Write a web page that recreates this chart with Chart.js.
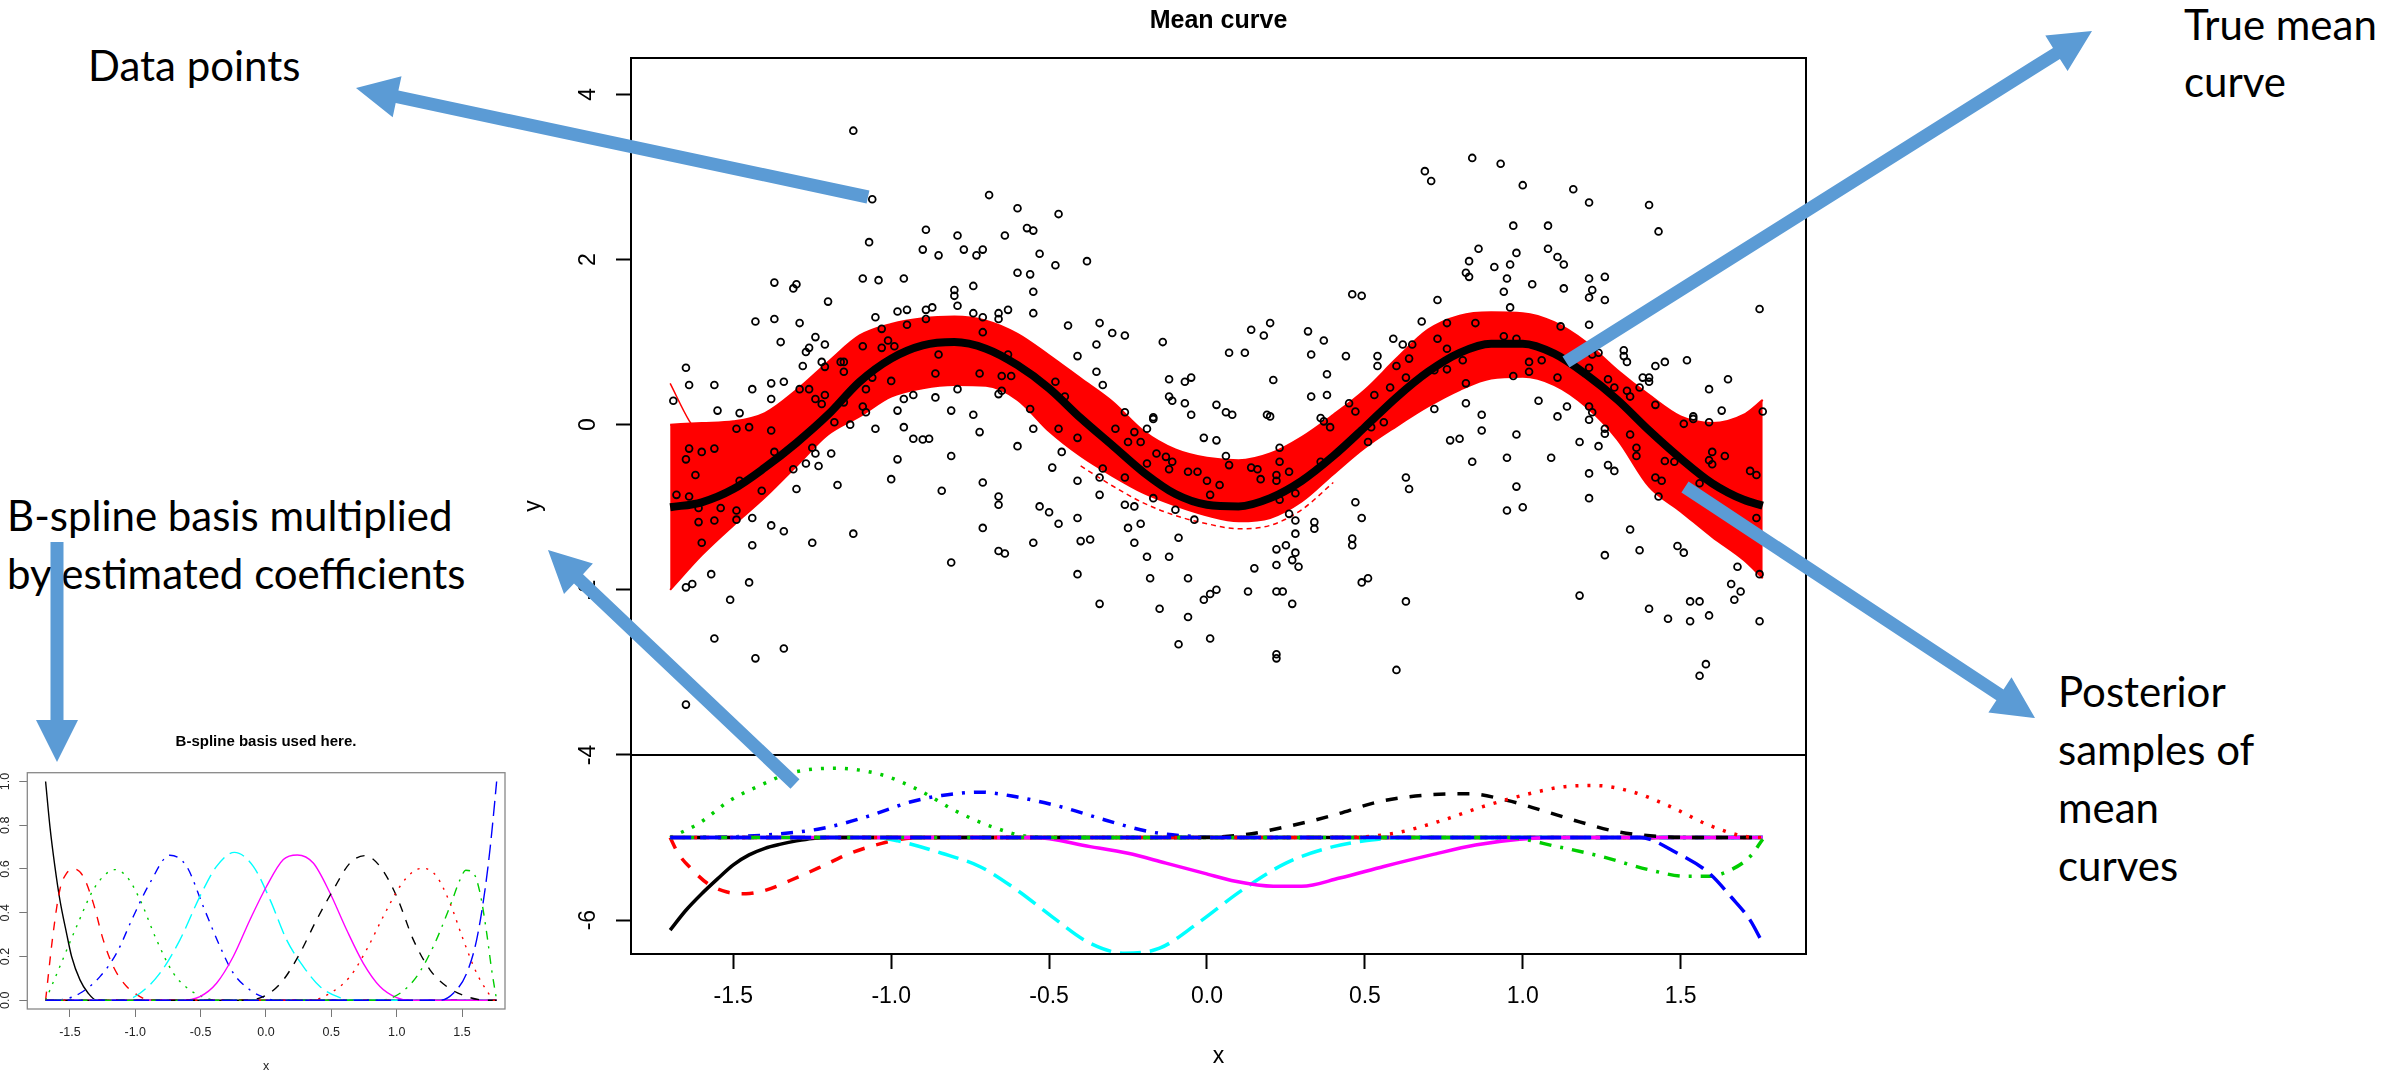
<!DOCTYPE html>
<html lang="en">
<head>
<meta charset="UTF-8">
<title>Mean curve</title>
<script src="https://cdn.jsdelivr.net/npm/chart.js"></script>
<style>
  html, body { margin: 0; padding: 0; background: #fff; }
  body { position: relative; width: 2394px; height: 1074px; overflow: hidden; }
  .chart-box { position: absolute; }
  #mainBox { left: 500px; top: 0; width: 1437px; height: 1074px; }
  #insetBox { left: -40px; top: 720px; width: 612px; height: 354px; }
  .note { position: absolute; margin: 0; font-family: Lato, "Open Sans", sans-serif; font-size: 42px; line-height: 58px; color: #000; white-space: nowrap; }
  #arrows { position: absolute; left: 0; top: 0; pointer-events: none; }
</style>
</head>
<body>
<div class="chart-box" id="mainBox"><canvas id="mainChart"></canvas></div>
<div class="chart-box" id="insetBox"><canvas id="insetChart"></canvas></div>

<div class="note" style="left:88px; top:36px;">Data points</div>
<div class="note" style="left:2184px; top:-4px; line-height:57px;">True mean<br>curve</div>
<div class="note" style="left:7px; top:486px;">B-spline basis multiplied<br>by estimated coefficients</div>
<div class="note" style="left:2058px; top:662px;">Posterior<br>samples of<br>mean<br>curves</div>

<svg id="arrows" width="2394" height="1074"></svg>

<script>
// ---- main panel: axes ----
const xMin = -1.824, xMax = 1.897;
const yMin = -6.41, yMax = 4.44;
const xTicks = [-1.5, -1.0, -0.5, 0.0, 0.5, 1.0, 1.5];
const yTicks = [4, 2, 0, -2, -4, -6];
const dividerY = -4;

// ---- true mean curve and the band of posterior samples ----
const curveX = [-1.7, -1.6, -1.5, -1.4, -1.3, -1.2, -1.1, -1.0, -0.9, -0.8, -0.7, -0.6, -0.5, -0.4, -0.3, -0.2, -0.1, 0.0,
                0.1, 0.2, 0.3, 0.4, 0.5, 0.6, 0.7, 0.8, 0.9, 1.0, 1.1, 1.2, 1.3, 1.4, 1.5, 1.6, 1.7, 1.76];
const trueMean = [-1.00, -0.94, -0.78, -0.52, -0.22, 0.12, 0.52, 0.80, 0.96, 1.00, 0.92, 0.72, 0.44, 0.08, -0.25, -0.58, -0.84, -0.97,
                  -0.99, -0.89, -0.68, -0.38, -0.03, 0.33, 0.64, 0.87, 0.98, 0.98, 0.86, 0.61, 0.30, -0.07, -0.41, -0.71, -0.91, -0.98];
const bandUpper = [0.00, 0.02, 0.04, 0.14, 0.42, 0.76, 1.08, 1.22, 1.29, 1.31, 1.26, 1.10, 0.84, 0.56, 0.28, -0.08, -0.30, -0.40,
                   -0.43, -0.35, -0.15, 0.12, 0.42, 0.80, 1.15, 1.32, 1.36, 1.35, 1.24, 1.00, 0.66, 0.36, 0.10, 0.02, 0.12, 0.30];
const bandLower = [-2.00, -1.58, -1.22, -0.88, -0.50, -0.12, 0.10, 0.34, 0.44, 0.48, 0.47, 0.30, -0.08, -0.38, -0.62, -0.83, -0.98, -1.10,
                   -1.17, -1.13, -0.93, -0.60, -0.28, -0.02, 0.22, 0.42, 0.56, 0.58, 0.48, 0.22, -0.18, -0.75, -1.05, -1.36, -1.64, -1.86];
// two stray posterior samples outside the dense band
const strayTroughX = [-0.4, -0.3, -0.2, -0.1, 0.0, 0.1, 0.2, 0.3, 0.4];
const strayTroughY = [-0.50, -0.74, -0.95, -1.10, -1.20, -1.26, -1.22, -1.03, -0.70];
const strayLeftX = [-1.70, -1.64, -1.58];
const strayLeftY = [0.50, 0.05, -0.25];

// ---- observed data points [x, y] ----
const observations = [
  [-1.12,3.56],[-1.06,2.73],[-1.07,2.21],[-0.69,2.78],[-0.60,2.62],[-0.57,2.38],[-0.55,2.35],[-0.89,2.36],[-0.79,2.29],[-0.64,2.29],
  [-0.90,2.12],[-0.85,2.05],[-0.77,2.12],[-0.71,2.12],[-0.73,2.05],[-0.53,2.07],[-1.37,1.72],[-1.30,1.70],[-1.31,1.65],[-1.09,1.77],
  [-1.04,1.75],[-0.96,1.77],[-0.60,1.84],[-0.56,1.82],[-0.55,1.61],[-0.80,1.63],[-0.80,1.56],[-0.74,1.68],[-1.20,1.49],[-0.79,1.44],
  [-1.43,1.25],[-1.37,1.28],[-1.29,1.23],[-1.05,1.30],[-0.98,1.37],[-0.95,1.39],[-0.89,1.39],[-0.87,1.42],[-0.74,1.35],[-0.71,1.30],
  [-0.66,1.35],[-0.63,1.39],[-0.55,1.35],[-0.66,1.28],[-0.89,1.28],[-0.95,1.21],[-1.03,1.16],[-0.71,1.12],[-1.35,1.00],[-1.24,1.06],
  [-1.21,0.97],[-1.26,0.93],[-1.27,0.88],[-1.01,1.02],[-1.09,0.95],[-1.03,0.93],[-0.99,0.95],[-1.15,0.76],[-1.16,0.76],[-1.22,0.76],
  [-1.28,0.71],[-1.21,0.70],[-1.15,0.64],[-1.65,0.69],[-1.64,0.48],[-1.56,0.48],[-1.44,0.43],[-1.38,0.50],[-1.34,0.52],[-1.06,0.57],
  [-1.00,0.53],[-0.85,0.85],[-0.86,0.62],[-0.72,0.62],[-0.65,0.59],[-0.62,0.59],[-0.63,0.85],[-1.29,0.43],[-1.26,0.43],[-1.08,0.43],
  [-1.24,0.31],[-1.21,0.36],[-1.22,0.25],[-1.15,0.27],[-0.79,0.43],[-0.93,0.36],[-0.96,0.31],[-0.86,0.33],[-0.65,0.41],[-0.66,0.37],
  [-1.69,0.29],[-1.55,0.17],[-1.48,0.14],[-1.38,0.31],[-1.09,0.22],[-1.08,0.15],[-0.98,0.17],[-0.81,0.17],[-0.74,0.12],[-0.56,0.19],
  [-0.47,2.55],[-0.48,1.93],[-0.38,1.98],[-0.44,1.20],[-0.34,1.23],[-0.30,1.11],[-0.26,1.08],[-0.35,0.97],[-0.41,0.83],[-0.14,1.00],
  [-0.35,0.64],[-0.33,0.48],[-0.48,0.52],[-0.45,0.34],[-0.12,0.55],[-0.07,0.52],[-0.05,0.57],[-0.12,0.34],[-0.11,0.29],[-0.07,0.26],
  [-0.05,0.12],[0.03,0.24],[0.06,0.15],[0.08,0.12],[0.19,0.12],[0.20,0.10],[-0.26,0.15],[-0.17,0.09],[0.07,0.87],[0.12,0.87],
  [0.14,1.15],[0.20,1.23],[0.18,1.08],[0.21,0.54],[0.32,1.13],[0.37,1.02],[0.33,0.85],[0.38,0.61],[0.44,0.83],[0.33,0.34],
  [0.38,0.36],[0.46,1.58],[0.49,1.56],[0.59,1.04],[0.62,0.97],[0.65,0.97],[0.54,0.83],[0.54,0.71],[0.60,0.71],[0.64,0.80],
  [0.63,0.57],[0.58,0.45],[0.53,0.36],[0.45,0.26],[0.47,0.16],[0.36,0.08],
  [0.84,3.23],[0.93,3.16],[0.69,3.07],[0.71,2.95],[1.00,2.90],[1.16,2.85],[1.21,2.69],[1.40,2.66],[1.43,2.34],[0.97,2.41],
  [1.08,2.41],[0.86,2.13],[0.98,2.08],[1.08,2.13],[1.11,2.03],[1.13,1.94],[0.83,1.98],[0.91,1.91],[0.96,1.94],[0.82,1.84],
  [0.83,1.79],[0.95,1.77],[1.03,1.70],[1.13,1.65],[1.21,1.77],[1.26,1.79],[1.22,1.63],[1.21,1.54],[1.26,1.51],[0.94,1.61],
  [0.73,1.51],[0.96,1.42],[1.75,1.40],[0.68,1.25],[0.76,1.23],[0.85,1.23],[1.12,1.19],[1.21,1.21],[0.73,1.04],[0.76,0.92],
  [0.94,1.07],[0.98,1.04],[0.81,0.78],[0.76,0.67],[0.72,0.66],[1.02,0.76],[1.06,0.78],[1.02,0.64],[0.97,0.59],[1.11,0.57],
  [1.22,0.85],[1.24,0.87],[1.21,0.69],[1.27,0.55],[1.29,0.45],[1.32,0.90],[1.32,0.83],[1.33,0.76],[1.42,0.71],[1.45,0.76],
  [1.52,0.78],[1.38,0.57],[1.40,0.57],[1.40,0.52],[1.37,0.45],[1.65,0.55],[1.59,0.43],[1.33,0.41],[1.34,0.34],[1.42,0.24],
  [0.82,0.50],[0.82,0.26],[0.72,0.19],[0.87,0.12],[1.05,0.29],[1.14,0.22],[1.21,0.22],[1.11,0.10],[1.22,0.15],[1.54,0.10],
  [1.63,0.17],[1.76,0.16],
  [-1.49,-0.05],[-1.45,-0.03],[-1.38,-0.07],[-1.64,-0.29],[-1.60,-0.33],[-1.56,-0.29],[-1.65,-0.42],[-1.62,-0.61],[-1.37,-0.33],[-1.48,-0.68],
  [-1.68,-0.85],[-1.64,-0.87],[-1.61,-1.01],[-1.54,-1.01],[-1.49,-1.04],[-1.61,-1.18],[-1.56,-1.16],[-1.49,-1.15],[-1.44,-1.13],[-1.41,-0.80],
  [-1.60,-1.43],[-1.44,-1.46],[-1.38,-1.22],[-1.34,-1.29],[-1.31,-0.54],[-1.30,-0.78],[-1.27,-0.47],[-1.25,-0.28],[-1.24,-0.35],[-1.19,-0.35],
  [-1.23,-0.50],[-1.17,-0.73],[-1.25,-1.43],[-1.12,-1.32],[-1.18,0.03],[-1.13,0.00],[-1.05,-0.05],[-0.96,-0.03],[-0.93,-0.17],[-0.90,-0.18],
  [-0.88,-0.17],[-0.98,-0.42],[-1.00,-0.66],[-0.81,-0.38],[-0.84,-0.80],[-0.72,-0.09],[-0.60,-0.26],[-0.55,-0.05],[-0.71,-0.70],[-0.66,-0.87],
  [-0.66,-0.97],[-0.53,-0.99],[-0.71,-1.25],[-0.66,-1.53],[-0.64,-1.56],[-0.55,-1.43],[-0.81,-1.67],[-1.57,-1.81],[-1.65,-1.97],[-1.63,-1.93],
  [-1.45,-1.91],[-1.51,-2.12],[-1.56,-2.59],[-1.43,-2.83],[-1.34,-2.71],[-1.65,-3.39],
  [-0.47,-0.05],[-0.41,-0.16],[-0.29,-0.05],[-0.23,-0.09],[-0.19,-0.05],[-0.25,-0.21],[-0.21,-0.21],[-0.17,0.07],[-0.01,-0.16],[0.03,-0.19],
  [-0.46,-0.33],[-0.49,-0.52],[-0.33,-0.53],[-0.34,-0.64],[-0.41,-0.68],[-0.34,-0.85],[-0.26,-0.64],[-0.19,-0.47],[-0.16,-0.35],[-0.13,-0.39],
  [-0.11,-0.45],[-0.12,-0.54],[-0.06,-0.57],[-0.03,-0.57],[0.00,-0.68],[0.04,-0.73],[0.01,-0.85],[0.06,-0.38],[0.07,-0.49],[0.14,-0.52],
  [0.16,-0.54],[0.17,-0.66],[0.23,-0.45],[0.23,-0.28],[0.26,-0.57],[0.22,-0.68],[0.22,-0.61],[0.28,-0.83],[0.23,-0.91],[0.36,-0.45],
  [0.39,-0.03],[0.37,0.04],[0.56,0.03],[0.52,-0.03],[0.51,-0.21],
  [-0.50,-1.06],[-0.47,-1.20],[-0.41,-1.13],[-0.40,-1.41],[-0.37,-1.39],[-0.41,-1.81],[-0.34,-2.17],[-0.26,-0.97],[-0.23,-0.99],[-0.17,-0.89],
  [-0.25,-1.25],[-0.21,-1.20],[-0.23,-1.43],[-0.10,-1.03],[-0.04,-1.15],[-0.09,-1.37],[-0.19,-1.60],[-0.12,-1.60],[-0.18,-1.86],[-0.06,-1.86],
  [-0.15,-2.23],[-0.06,-2.33],[-0.09,-2.66],[0.01,-2.59],[-0.01,-2.12],[0.01,-2.05],[0.03,-2.00],[0.13,-2.02],[0.22,-2.02],[0.24,-2.02],
  [0.27,-2.17],[0.15,-1.74],[0.22,-1.70],[0.22,-1.51],[0.25,-1.46],[0.28,-1.55],[0.27,-1.64],[0.29,-1.72],[0.28,-1.32],[0.28,-1.16],
  [0.26,-1.08],[0.34,-1.18],[0.34,-1.26],[0.46,-1.38],[0.46,-1.46],[0.47,-0.94],[0.49,-1.13],[0.49,-1.91],[0.51,-1.86],[0.63,-0.64],
  [0.64,-0.78],[0.63,-2.14],[0.60,-2.97],[0.22,-2.78],[0.22,-2.83],
  [0.77,-0.19],[0.80,-0.17],[0.87,-0.07],[0.98,-0.12],[0.84,-0.45],[0.95,-0.40],[1.09,-0.40],[1.18,-0.21],[1.24,-0.26],[1.21,0.06],
  [1.26,-0.05],[1.26,-0.11],[1.34,-0.12],[1.36,-0.28],[1.36,-0.38],[1.27,-0.49],[1.29,-0.56],[1.21,-0.59],[0.98,-0.75],[0.95,-1.04],
  [1.00,-1.00],[1.21,-0.89],[1.45,-0.44],[1.42,-0.64],[1.44,-0.68],[1.43,-0.87],[1.56,-0.71],[1.48,-0.45],[1.51,0.01],[1.54,0.07],
  [1.59,0.03],[1.60,-0.33],[1.59,-0.43],[1.60,-0.48],[1.64,-0.38],[1.72,-0.56],[1.74,-0.61],[1.74,-1.13],[1.34,-1.27],[1.37,-1.52],
  [1.26,-1.58],[1.49,-1.47],[1.51,-1.55],[1.68,-1.72],[1.75,-1.81],[1.66,-1.93],[1.69,-2.02],[1.67,-2.12],[1.18,-2.07],[1.53,-2.14],
  [1.56,-2.14],[1.40,-2.23],[1.46,-2.35],[1.53,-2.38],[1.59,-2.31],[1.75,-2.38],[1.58,-2.90],[1.56,-3.04]
];

// ---- lower panel: basis functions times estimated coefficients, drawn around -5 ----
const coef1 = [[-1.70,-6.12],[-1.65,-5.88],[-1.60,-5.68],[-1.55,-5.50],[-1.50,-5.33],[-1.45,-5.21],[-1.40,-5.13],[-1.35,-5.08],[-1.30,-5.04],[-1.25,-5.01],[-1.20,-5.00],[1.76,-5.00]];
const coef2 = [[-1.70,-5.00],[-1.675,-5.19],[-1.63,-5.39],[-1.58,-5.56],[-1.52,-5.66],[-1.46,-5.68],[-1.40,-5.64],[-1.32,-5.52],[-1.22,-5.35],[-1.13,-5.19],[-1.03,-5.07],[-0.97,-5.02],[-0.90,-5.00],[1.76,-5.00]];
const coef3 = [[-1.70,-5.00],[-1.61,-4.83],[-1.51,-4.55],[-1.41,-4.36],[-1.32,-4.22],[-1.18,-4.16],[-1.03,-4.24],[-0.91,-4.43],[-0.80,-4.67],[-0.68,-4.87],[-0.56,-4.99],[-0.46,-5.00],[1.76,-5.00]];
const coef4 = [[-1.70,-5.00],[-1.50,-4.99],[-1.37,-4.96],[-1.22,-4.89],[-1.08,-4.75],[-0.94,-4.57],[-0.84,-4.49],[-0.72,-4.45],[-0.60,-4.51],[-0.46,-4.63],[-0.32,-4.79],[-0.18,-4.93],[-0.03,-4.99],[0.06,-5.00],[1.76,-5.00]];
const coef5 = [[-1.70,-5.00],[-1.05,-5.00],[-0.98,-5.04],[-0.84,-5.19],[-0.72,-5.35],[-0.60,-5.64],[-0.49,-5.96],[-0.37,-6.28],[-0.26,-6.40],[-0.15,-6.34],[-0.03,-6.04],[0.11,-5.64],[0.25,-5.31],[0.40,-5.11],[0.52,-5.03],[0.62,-5.00],[1.76,-5.00]];
const coef6 = [[-1.70,-5.00],[-0.55,-5.00],[-0.37,-5.11],[-0.25,-5.19],[-0.13,-5.31],[-0.01,-5.43],[0.09,-5.53],[0.21,-5.59],[0.30,-5.59],[0.42,-5.49],[0.56,-5.35],[0.71,-5.21],[0.85,-5.09],[0.99,-5.02],[1.10,-5.00],[1.76,-5.00]];
const coef7 = [[-1.70,-5.00],[-0.10,-5.00],[0.11,-4.97],[0.25,-4.87],[0.40,-4.73],[0.54,-4.57],[0.68,-4.49],[0.83,-4.47],[0.95,-4.55],[1.06,-4.67],[1.18,-4.81],[1.30,-4.93],[1.45,-4.99],[1.60,-5.00],[1.76,-5.00]];
const coef8 = [[-1.70,-5.00],[0.42,-5.00],[0.59,-4.95],[0.73,-4.81],[0.87,-4.63],[1.02,-4.47],[1.14,-4.38],[1.23,-4.37],[1.35,-4.45],[1.47,-4.63],[1.59,-4.85],[1.71,-4.99],[1.76,-5.00]];
const coef9 = [[-1.70,-5.00],[0.95,-5.00],[1.11,-5.11],[1.25,-5.23],[1.40,-5.39],[1.52,-5.47],[1.59,-5.47],[1.66,-5.39],[1.72,-5.23],[1.76,-5.02]];
const coef10 = [[-1.70,-5.00],[1.37,-5.00],[1.49,-5.19],[1.59,-5.43],[1.66,-5.72],[1.72,-6.00],[1.76,-6.28]];

// ---- inset: the B-spline basis ----
const insetXMin = -1.826, insetXMax = 1.829;
const insetYMin = -0.04, insetYMax = 1.04;
const insetXTicks = [-1.5, -1.0, -0.5, 0.0, 0.5, 1.0, 1.5];
const insetYTicks = [0.0, 0.2, 0.4, 0.6, 0.8, 1.0];
const basis1 = [[-1.686,1.0],[-1.653,0.795],[-1.615,0.612],[-1.577,0.46],[-1.526,0.307],[-1.487,0.20],[-1.423,0.093],[-1.36,0.032],[-1.296,0.0],[1.765,0]];
const basis2 = [[-1.686,0],[-1.628,0.307],[-1.577,0.505],[-1.526,0.58],[-1.469,0.60],[-1.398,0.566],[-1.321,0.444],[-1.245,0.276],[-1.168,0.154],[-1.066,0.063],[-0.964,0.017],[-0.888,0],[1.765,0]];
const basis3 = [[-1.686,0],[-1.577,0.154],[-1.449,0.337],[-1.321,0.505],[-1.219,0.58],[-1.156,0.597],[-1.066,0.566],[-0.964,0.46],[-0.837,0.276],[-0.709,0.124],[-0.582,0.047],[-0.454,0.009],[-0.378,0],[1.765,0]];
const basis4 = [[-1.686,0],[-1.55,0.004],[-1.423,0.032],[-1.27,0.108],[-1.143,0.215],[-1.015,0.383],[-0.888,0.536],[-0.735,0.663],[-0.607,0.612],[-0.48,0.429],[-0.352,0.246],[-0.25,0.124],[-0.122,0.047],[0.005,0.009],[0.082,0],[1.765,0]];
const basis5 = [[-1.686,0],[-1.092,0],[-0.964,0.032],[-0.811,0.124],[-0.658,0.276],[-0.505,0.475],[-0.378,0.612],[-0.242,0.676],[-0.097,0.612],[0.031,0.46],[0.158,0.276],[0.286,0.154],[0.413,0.063],[0.566,0.012],[0.668,0],[1.765,0]];
const basis6 = [[-1.686,0],[-0.658,0],[-0.505,0.017],[-0.378,0.078],[-0.25,0.2],[-0.122,0.368],[0.005,0.521],[0.133,0.643],[0.24,0.664],[0.362,0.627],[0.49,0.49],[0.617,0.322],[0.745,0.169],[0.872,0.063],[1.0,0.012],[1.102,0],[1.765,0]];
const basis7 = [[-1.686,0],[-0.148,0],[0.005,0.024],[0.133,0.093],[0.26,0.215],[0.388,0.368],[0.515,0.505],[0.643,0.627],[0.758,0.661],[0.872,0.612],[1.0,0.475],[1.128,0.276],[1.255,0.139],[1.383,0.063],[1.536,0.017],[1.689,0],[1.765,0]];
const basis8 = [[-1.686,0],[0.337,0],[0.49,0.032],[0.643,0.108],[0.77,0.231],[0.898,0.383],[1.026,0.521],[1.128,0.589],[1.204,0.603],[1.306,0.566],[1.408,0.444],[1.51,0.276],[1.612,0.124],[1.702,0.032],[1.74,0],[1.765,0]];
const basis9 = [[-1.686,0],[0.872,0],[1.026,0.032],[1.153,0.108],[1.281,0.246],[1.408,0.429],[1.485,0.551],[1.528,0.594],[1.587,0.582],[1.638,0.49],[1.689,0.307],[1.727,0.139],[1.765,0]];
const basis10 = [[-1.686,0],[1.332,0],[1.434,0.032],[1.536,0.124],[1.612,0.276],[1.676,0.505],[1.714,0.689],[1.74,0.841],[1.765,1.0]];

// R style colours / line types, cycled like matplot
const rColors = ['#000000', '#FF0000', '#00CD00', '#0000FF', '#00FFFF', '#FF00FF', '#000000', '#FF0000', '#00CD00', '#0000FF'];
const rLty = ['solid', 'dashed', 'dotted', 'dotdash', 'longdash', 'solid', 'dashed', 'dotted', 'dotdash', 'longdash'];

function dashFor(lty, unit) {
  if (lty === 'dashed') return [4 * unit, 4 * unit];
  if (lty === 'dotted') return [1 * unit, 3 * unit];
  if (lty === 'dotdash') return [1 * unit, 3 * unit, 4 * unit, 3 * unit];
  if (lty === 'longdash') return [7 * unit, 3 * unit];
  return [];
}

const toXY = (xs, ys) => xs.map((x, i) => ({ x: x, y: ys[i] }));
const pairs = arr => arr.map(p => ({ x: p[0], y: p[1] }));
const fmt1 = v => Number(v).toFixed(1);

Chart.defaults.font.family = '"Liberation Sans", Arial, sans-serif';

// empty right-hand axis, only there so the title centres over the plot box
const spacerAxis = width => ({
  type: 'linear', position: 'right', display: true, min: 0, max: 1,
  afterFit: s => { s.width = width; },
  grid: { display: false }, border: { display: false }, ticks: { display: false }
});

// draws the box, the divider line and the rotated y tick labels (R style)
function framePlugin(cfg) {
  return {
    id: 'frame',
    afterDraw(chart) {
      const ctx = chart.ctx;
      const a = chart.chartArea;
      const ys = chart.scales.y;
      ctx.save();
      ctx.strokeStyle = cfg.boxColor;
      ctx.lineWidth = cfg.boxWidth;
      ctx.strokeRect(a.left, a.top, a.right - a.left, a.bottom - a.top);
      if (cfg.divider !== undefined) {
        const py = ys.getPixelForValue(cfg.divider);
        ctx.beginPath();
        ctx.moveTo(a.left, py);
        ctx.lineTo(a.right, py);
        ctx.stroke();
      }
      ctx.fillStyle = cfg.labelColor;
      ctx.font = cfg.labelSize + 'px "Liberation Sans", Arial, sans-serif';
      ctx.textAlign = 'center';
      ctx.textBaseline = 'middle';
      cfg.ticks.forEach(v => {
        const py = ys.getPixelForValue(v);
        ctx.save();
        ctx.translate(a.left - cfg.labelGap, py);
        ctx.rotate(-Math.PI / 2);
        ctx.fillText(cfg.format(v), 0, 0);
        ctx.restore();
      });
      ctx.restore();
    }
  };
}

// ---------------- main chart ----------------
const coefSets = [coef1, coef2, coef3, coef4, coef5, coef6, coef7, coef8, coef9, coef10];
const mainDatasets = [
  {
    type: 'scatter', label: 'Data points', data: pairs(observations),
    pointStyle: 'circle', pointRadius: 3.4, pointBorderWidth: 1.8,
    pointBorderColor: '#000', pointBackgroundColor: 'rgba(0,0,0,0)', order: 1
  },
  {
    label: 'True mean curve', data: toXY(curveX, trueMean), borderColor: '#000', borderWidth: 8,
    pointRadius: 0, cubicInterpolationMode: 'monotone', order: 2
  },
  {
    label: 'Posterior upper', data: toXY(curveX, bandUpper), borderColor: '#FF0000', borderWidth: 2,
    pointRadius: 0, cubicInterpolationMode: 'monotone', fill: false, order: 4
  },
  {
    label: 'Posterior lower', data: toXY(curveX, bandLower), borderColor: '#FF0000', borderWidth: 2,
    pointRadius: 0, cubicInterpolationMode: 'monotone', fill: '-1', backgroundColor: '#FF0000', order: 3
  },
  {
    label: 'Stray sample', data: toXY(strayTroughX, strayTroughY), borderColor: '#FF0000', borderWidth: 1.5,
    borderDash: [5, 4], pointRadius: 0, cubicInterpolationMode: 'monotone', order: 5
  },
  {
    label: 'Stray sample 2', data: toXY(strayLeftX, strayLeftY), borderColor: '#FF0000', borderWidth: 1.5,
    pointRadius: 0, cubicInterpolationMode: 'monotone', order: 5
  }
];
coefSets.forEach((set, i) => {
  mainDatasets.push({
    label: 'coef ' + (i + 1), data: pairs(set), borderColor: rColors[i], borderWidth: 3.5,
    borderDash: dashFor(rLty[i], 3), borderCapStyle: 'butt',
    pointRadius: 0, cubicInterpolationMode: 'monotone', order: 30 - i
  });
});

new Chart(document.getElementById('mainChart'), {
  type: 'line',
  data: { datasets: mainDatasets },
  options: {
    responsive: true, maintainAspectRatio: false, animation: false, events: [],
    layout: { padding: 0 },
    plugins: {
      legend: { display: false },
      tooltip: { enabled: false },
      title: {
        display: true, text: 'Mean curve', color: '#000',
        font: { size: 25, weight: 'bold' }, padding: { top: 6, bottom: 22 }
      }
    },
    scales: {
      x: {
        type: 'linear', min: xMin, max: xMax,
        afterBuildTicks: s => { s.ticks = xTicks.map(v => ({ value: v })); },
        afterFit: s => { s.height = 120; },
        grid: { display: true, drawOnChartArea: false, drawTicks: true, tickLength: 15, tickWidth: 2, tickColor: '#000' },
        border: { display: false },
        ticks: { color: '#000', font: { size: 23 }, padding: 14, maxRotation: 0, autoSkip: false, callback: v => fmt1(v) },
        title: { display: true, text: 'x', color: '#000', font: { size: 23 }, padding: { top: 0, bottom: 4 } }
      },
      y: {
        type: 'linear', position: 'left', min: yMin, max: yMax,
        afterBuildTicks: s => { s.ticks = yTicks.map(v => ({ value: v })); },
        afterFit: s => { s.width = 131; },
        grid: { display: true, drawOnChartArea: false, drawTicks: true, tickLength: 15, tickWidth: 2, tickColor: '#000' },
        border: { display: false },
        ticks: { display: false },
        title: { display: true, text: 'y', color: '#000', font: { size: 23 }, padding: { top: 20, bottom: 0 } }
      },
      spacer: spacerAxis(131)
    }
  },
  plugins: [framePlugin({
    boxColor: '#000', boxWidth: 2, divider: dividerY, ticks: yTicks,
    format: v => String(v), labelColor: '#000', labelSize: 23, labelGap: 42
  })]
});

// ---------------- inset chart ----------------
const basisSets = [basis1, basis2, basis3, basis4, basis5, basis6, basis7, basis8, basis9, basis10];
const insetDatasets = basisSets.map((set, i) => ({
  label: 'basis ' + (i + 1), data: pairs(set), borderColor: rColors[i], borderWidth: 1.4,
  borderDash: dashFor(rLty[i], 2.2), borderCapStyle: 'butt',
  pointRadius: 0, cubicInterpolationMode: 'monotone', order: 20 - i
}));

new Chart(document.getElementById('insetChart'), {
  type: 'line',
  data: { datasets: insetDatasets },
  options: {
    responsive: true, maintainAspectRatio: false, animation: false, events: [],
    layout: { padding: 0 },
    plugins: {
      legend: { display: false },
      tooltip: { enabled: false },
      title: {
        display: true, text: 'B-spline basis used here.', color: '#000',
        font: { size: 15, weight: 'bold' }, padding: { top: 13, bottom: 21.7 }
      }
    },
    scales: {
      x: {
        type: 'linear', min: insetXMin, max: insetXMax,
        afterBuildTicks: s => { s.ticks = insetXTicks.map(v => ({ value: v })); },
        afterFit: s => { s.height = 65; },
        grid: { display: true, drawOnChartArea: false, drawTicks: true, tickLength: 8, tickWidth: 1, tickColor: '#777' },
        border: { display: false },
        ticks: { color: '#222', font: { size: 12.5 }, padding: 8, maxRotation: 0, autoSkip: false, callback: v => fmt1(v) },
        title: { display: true, text: 'x', color: '#222', font: { size: 12.5 }, padding: { top: 0, bottom: 0 } }
      },
      y: {
        type: 'linear', position: 'left', min: insetYMin, max: insetYMax,
        afterBuildTicks: s => { s.ticks = insetYTicks.map(v => ({ value: v })); },
        afterFit: s => { s.width = 67.3; },
        grid: { display: true, drawOnChartArea: false, drawTicks: true, tickLength: 8, tickWidth: 1, tickColor: '#777' },
        border: { display: false },
        ticks: { display: false }
      },
      spacer: spacerAxis(67)
    }
  },
  plugins: [framePlugin({
    boxColor: '#888', boxWidth: 1.3, ticks: insetYTicks,
    format: v => fmt1(v), labelColor: '#222', labelSize: 12.5, labelGap: 22
  })]
});

// ---------------- callout arrows ----------------
const arrowSpecs = [
  { tail: [868, 197], tip: [356, 88] },
  { tail: [1566, 362], tip: [2092, 31] },
  { tail: [1685, 487], tip: [2035, 718] },
  { tail: [795, 784], tip: [548, 550] },
  { tail: [57, 542], tip: [57, 762] }
];
const svg = document.getElementById('arrows');
arrowSpecs.forEach(a => {
  const dx = a.tip[0] - a.tail[0], dy = a.tip[1] - a.tail[1];
  const len = Math.hypot(dx, dy);
  const ux = dx / len, uy = dy / len, nx = -uy, ny = ux;
  const shaft = 6.5, headHalf = 21, headLen = 42;
  const bx = a.tip[0] - ux * headLen, by = a.tip[1] - uy * headLen;
  const pts = [
    [a.tail[0] + nx * shaft, a.tail[1] + ny * shaft],
    [bx + nx * shaft, by + ny * shaft],
    [bx + nx * headHalf, by + ny * headHalf],
    a.tip,
    [bx - nx * headHalf, by - ny * headHalf],
    [bx - nx * shaft, by - ny * shaft],
    [a.tail[0] - nx * shaft, a.tail[1] - ny * shaft]
  ];
  const poly = document.createElementNS('http://www.w3.org/2000/svg', 'polygon');
  poly.setAttribute('points', pts.map(p => p[0].toFixed(1) + ',' + p[1].toFixed(1)).join(' '));
  poly.setAttribute('fill', '#5B9BD5');
  svg.appendChild(poly);
});
</script>
</body>
</html>
